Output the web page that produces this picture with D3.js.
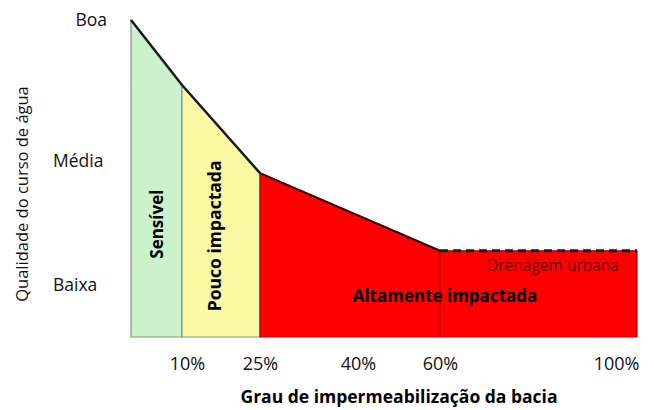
<!DOCTYPE html>
<html>
<head>
<meta charset="utf-8">
<script src="https://cdn.jsdelivr.net/npm/d3@7"></script>
<style>
  body { margin: 0; background: #fff; }
  text { font-family: "Open Sans", sans-serif; }
</style>
</head>
<body>
<div id="chart"></div>
<script>
// impermeabilizacao (%) e qualidade do curso (0 = fundo, 100 = Boa)
const grau = [0, 10, 25, 60, 100];
const qualidade = [100, 79.5, 51.7, 27.2, 27.2];

const xTicks = [10, 25, 40, 60, 100];
const yLevels = ["Boa", "Média", "Baixa"];
const yLevelValues = [100, 55.5, 16.5];

const zonas = [
  { nome: "Sensível", de: 0, ate: 10, cor: "#ccf2cc", borda: "#7f9a80" },
  { nome: "Pouco impactada", de: 10, ate: 25, cor: "#fafaa4", borda: "#7f9a80" },
  { nome: "Altamente impactada", de: 25, ate: 100, cor: "#ff0000", borda: "#b00000" }
];

const width = 654, height = 410;

const svg = d3.select("#chart").append("svg")
  .attr("width", width)
  .attr("height", height);

// o eixo do original nao e uniforme (40% fica deslocado)
const x = d3.scaleLinear()
  .domain([0, 10, 25, 40, 60, 100])
  .range([131, 182, 260, 358, 440, 637]);
const y = d3.scaleLinear().domain([0, 100]).range([337, 20]);

const pts = grau.map((g, i) => ({ g, q: qualidade[i] }));

function qAt(g) {
  return d3.scaleLinear().domain(grau).range(qualidade)(g);
}

// zonas coloridas
zonas.forEach(z => {
  const inside = pts.filter(p => p.g > z.de && p.g < z.ate);
  const seg = [{ g: z.de, q: qAt(z.de) }, ...inside, { g: z.ate, q: qAt(z.ate) }];
  const area = d3.area()
    .x(d => x(d.g))
    .y0(y(0))
    .y1(d => y(d.q));
  svg.append("path")
    .attr("d", area(seg))
    .attr("fill", z.cor)
    .attr("stroke", z.borda)
    .attr("stroke-width", 1.2);
});

// divisao em 60% dentro da zona vermelha
svg.append("line")
  .attr("x1", x(60)).attr("x2", x(60))
  .attr("y1", y(qAt(60))).attr("y2", y(0))
  .attr("stroke", "#a80000")
  .attr("stroke-width", 1.2);

// curva de qualidade
const line = d3.line().x(d => x(d.g)).y(d => y(d.q));
svg.append("path")
  .attr("d", line(pts.filter(p => p.g <= 25)))
  .attr("fill", "none")
  .attr("stroke", "#1a1a1a")
  .attr("stroke-width", 2.5);
svg.append("path")
  .attr("d", line(pts.filter(p => p.g >= 25 && p.g <= 60)))
  .attr("fill", "none")
  .attr("stroke", "#3a0000")
  .attr("stroke-width", 2);
svg.append("path")
  .attr("d", line(pts.filter(p => p.g >= 60)))
  .attr("fill", "none")
  .attr("stroke", "#1a1a1a")
  .attr("stroke-width", 3)
  .attr("stroke-dasharray", "8,5");

// rotulos das zonas
svg.append("text")
  .attr("transform", `translate(${(x(0) + x(10)) / 2 + 6},${y(35.6)}) rotate(-90)`)
  .attr("text-anchor", "middle")
  .attr("font-size", 17).attr("font-weight", "bold")
  .text(zonas[0].nome);
svg.append("text")
  .attr("transform", `translate(${(x(10) + x(25)) / 2},${y(31.9)}) rotate(-90)`)
  .attr("text-anchor", "middle")
  .attr("font-size", 17.5).attr("font-weight", "bold")
  .text(zonas[1].nome);
svg.append("text")
  .attr("x", 445).attr("y", 302)
  .attr("text-anchor", "middle")
  .attr("font-size", 17).attr("font-weight", "bold")
  .text(zonas[2].nome);
svg.append("text")
  .attr("x", 619).attr("y", 271)
  .attr("text-anchor", "end")
  .attr("font-size", 15.5)
  .attr("fill", "#6e0000")
  .text("Drenagem urbana");

// eixo x
const xAxis = svg.append("g")
  .attr("transform", `translate(0,${y(0)})`)
  .call(d3.axisBottom(x).tickValues(xTicks).tickSize(0).tickPadding(20).tickFormat(d => d + "%"));
xAxis.select(".domain").remove();
xAxis.selectAll("text")
  .attr("font-family", "Open Sans, sans-serif")
  .attr("font-size", 18)
  .attr("fill", "#111");
xAxis.selectAll(".tick").filter(d => d === 10).select("text").attr("dx", 5);
xAxis.selectAll(".tick").filter(d => d === 100).select("text")
  .attr("text-anchor", "end")
  .attr("dx", 2);

svg.append("text")
  .attr("x", 399).attr("y", 403)
  .attr("text-anchor", "middle")
  .attr("font-size", 17.5).attr("font-weight", "bold")
  .text("Grau de impermeabilização da bacia");

// niveis do eixo y
svg.selectAll(".nivel")
  .data(yLevels)
  .join("text")
  .attr("class", "nivel")
  .attr("x", (d, i) => i === 0 ? 107 : 53)
  .attr("y", (d, i) => y(yLevelValues[i]))
  .attr("dy", "0.35em")
  .attr("text-anchor", (d, i) => i === 0 ? "end" : "start")
  .attr("font-size", 17.5)
  .attr("fill", "#111")
  .text(d => d);

svg.append("text")
  .attr("transform", `translate(28,194) rotate(-90)`)
  .attr("text-anchor", "middle")
  .attr("font-size", 16.5)
  .attr("fill", "#111")
  .text("Qualidade do curso de água");
</script>
</body>
</html>
